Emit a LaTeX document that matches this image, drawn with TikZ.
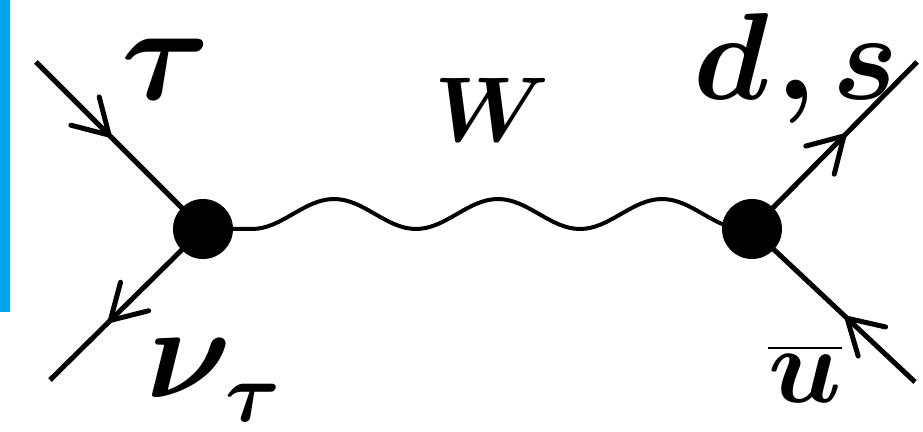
\RequirePackage{fix-cm}
\documentclass[tikz,border=0pt]{standalone}
\usepackage{amsmath}
\definecolor{BarBlue}{HTML}{00A5EA}
\usetikzlibrary{arrows.meta, decorations.markings}

\begin{document}
\begin{tikzpicture}[x=0.5pt, y=-0.5pt, line join=round,
    fermion/.style={line width=2.5pt, decoration={markings,
        mark=at position #1 with {\arrow{Straight Barb[length=17pt, width=20pt, line cap=round]}}},
        postaction={decorate}},
    boson/.style={line width=2pt},
    vtx/.style={circle, fill=black, minimum size=30pt, inner sep=0pt},
    lbl/.style={font=\fontsize{#1}{#1}\selectfont, inner sep=0pt, anchor=base}]
  \useasboundingbox (0,0) rectangle (923,432);
  \fill[BarBlue] (0,0) rectangle (10,312);
  % vertices and external legs
  \coordinate (vl) at (203,229);
  \coordinate (vr) at (752,229);
  \coordinate (tauin) at (36,62);
  \coordinate (nuout) at (50,380);
  \coordinate (qout) at (917,62);
  \coordinate (ubin) at (915,382);
  \draw[fermion=0.46] (tauin) -- (vl);
  \draw[fermion=0.63] (vl) -- (nuout);
  \draw[fermion=0.58] (vr) -- (qout);
  \draw[fermion=0.44] (ubin) -- (vr);
  % W propagator
  \draw[boson] (vl) -- ++(49,0)
    foreach \i in {1,2,3} { cos ++(41,-15) sin ++(41,-15) cos ++(41,15) sin ++(41,15) }
    -- (vr);
  \node[vtx] (blobl) at (vl) {};
  \node[vtx] (blobr) at (vr) {};
  % labels
  \node[lbl=68] (ltau) at (166,100) {$\boldsymbol{\tau}$};
  \node[lbl=66, anchor=base west] (lnu) at (146,398)
    {$\boldsymbol{\nu}$\kern-3pt\raisebox{-12pt}{\fontsize{42}{42}\selectfont$\boldsymbol{\tau}$}};
  \node[lbl=46] (lw) at (492,142) {$\boldsymbol{W}$};
  \node[lbl=62] (lds) at (796,100) {$\boldsymbol{d\mkern1mu{,}\mkern2mu s}$};
  \node[lbl=54] (lub) at (805,403) {$\boldsymbol{\overline{u}}$};
\end{tikzpicture}
\end{document}
